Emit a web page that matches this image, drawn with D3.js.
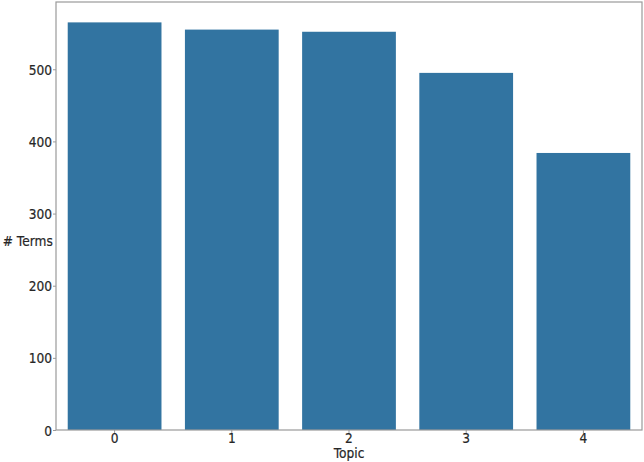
<!DOCTYPE html>
<html><head><meta charset="utf-8">
<script src="https://cdn.jsdelivr.net/npm/d3@7"></script>
<style>body{margin:0;background:#fff}svg{display:block}text{font-family:"DejaVu Sans",sans-serif}</style>
</head><body>
<svg id="c" width="644" height="462"></svg>
<script>
const categories = ["0","1","2","3","4"];
const values = [565, 555, 552, 495, 384];
const yTicks = [0,100,200,300,400,500];

const m = {left:56, right:2, top:2, bottom:32};
const W = 644, H = 462;
const FS = 12.2, SY = 1.14;
const svg = d3.select("#c");
const x = d3.scaleBand().domain(categories).range([m.left, W-m.right]).paddingInner(0.2).paddingOuter(0.1);
const y = d3.scaleLinear().domain([0, d3.max(values)*1.05]).range([H-m.bottom, m.top]);

svg.append("g").selectAll("rect").data(values).join("rect")
  .attr("x",(d,i)=>x(categories[i])).attr("width",x.bandwidth())
  .attr("y",d=>y(d)).attr("height",d=>y(0)-y(d))
  .attr("fill","#3274a1");

svg.append("rect").attr("x",m.left).attr("y",m.top).attr("width",W-m.right-m.left).attr("height",H-m.bottom-m.top)
  .attr("fill","none").attr("stroke","#9a9a9a").attr("stroke-width",1.2);

const xa = svg.append("g").attr("transform",`translate(0,${H-m.bottom})`)
  .call(d3.axisBottom(x).tickSize(3.5).tickPadding(3));
const ya = svg.append("g").attr("transform",`translate(${m.left},0)`)
  .call(d3.axisLeft(y).tickValues(yTicks).tickSize(3).tickPadding(1));
[xa,ya].forEach(a=>{
  a.select(".domain").remove();
  a.selectAll(".tick line").attr("stroke","#9a9a9a");
  a.selectAll(".tick text").attr("fill","#262626").style("font-size",FS+"px")
    .attr("stroke","#262626").attr("stroke-width",0.18)
    .attr("transform",`scale(1,${SY})`);
});
xa.selectAll(".tick text").attr("y",13.5/SY).attr("dy",0);
ya.selectAll(".tick text").attr("dy","0.36em");

function label(txt, px, py, anchor){
  svg.append("text").attr("transform",`translate(${px},${py}) scale(1,${SY})`)
    .attr("text-anchor",anchor).attr("fill","#262626")
    .attr("stroke","#262626").attr("stroke-width",0.18)
    .style("font-size",FS+"px").text(txt);
}
label("Topic", (m.left+W-m.right)/2, 458, "middle");
label("# Terms", 52.8, 246, "end");
</script>
</body></html>
